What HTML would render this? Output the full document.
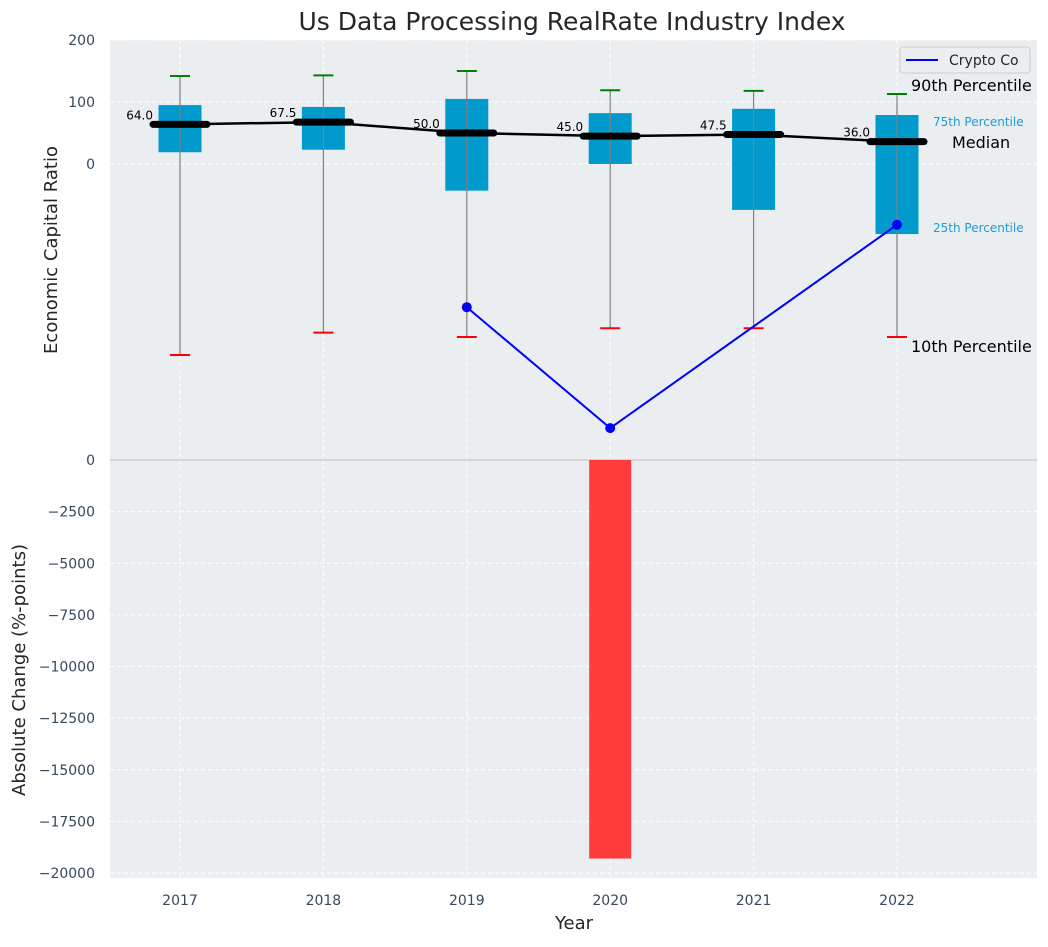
<!DOCTYPE html>
<html><head><meta charset="utf-8"><style>
body{margin:0;background:#fff;font-family:"Liberation Sans","DejaVu Sans",sans-serif}
svg text{font-family:"DejaVu Sans","Liberation Sans",sans-serif}
</style></head><body>
<svg id="c" width="1048" height="942" xmlns="http://www.w3.org/2000/svg">
<text x="572" y="30" font-size="25" text-anchor="middle" fill="#262626">Us Data Processing RealRate Industry Index</text>
<rect x="110" y="40" width="927" height="419" fill="#eaeef0"/>
<rect x="110" y="459" width="927" height="419" fill="#eaeef0"/>
<g id="g"></g>
<text x="57" y="250" font-size="18" fill="#262626" text-anchor="middle" transform="rotate(-90 57 250)">Economic Capital Ratio</text>
<text x="25" y="670" font-size="18" fill="#262626" text-anchor="middle" transform="rotate(-90 25 670)">Absolute Change (%-points)</text>
<text x="574" y="929" font-size="18" fill="#262626" text-anchor="middle">Year</text>
<g>
<rect x="900" y="47" width="130" height="26" rx="3" fill="#eaeef0" stroke="#ccc"/>
<line x1="906" y1="60" x2="938" y2="60" stroke="blue" stroke-width="2"/>
<text x="949" y="65" font-size="14" fill="#262626">Crypto Co</text>
</g>
<text x="911" y="91" font-size="16" fill="#000">90th Percentile</text>
<text x="933" y="126" font-size="12" fill="#1a9fd0">75th Percentile</text>
<text x="952" y="148" font-size="16" fill="#000">Median</text>
<text x="933" y="232" font-size="12" fill="#1a9fd0">25th Percentile</text>
<text x="911" y="352" font-size="16" fill="#000">10th Percentile</text>
</svg>
<script>
const years=["2017","2018","2019","2020","2021","2022"];
const p10=[-308,-272,-279,-265,-265,-279];
const p25=[19,23,-43,0,-74,-113];
const median=[64,67.5,50,45,47.5,36];
const p75=[95,92,105,82,89,79];
const p90=[142,143,150,119,118,113];
const cryptoYears=["2019","2020","2022"];
const cryptoVals=[-231,-426,-98];
const changes=[0,0,0,-19300,0,0];
const topTicks=[200,100,0];
const botTicks=[0,-2500,-5000,-7500,-10000,-12500,-15000,-17500,-20000];
const NS="http://www.w3.org/2000/svg",G=document.getElementById('g');
const X=i=>180+i*143.4;
const Y1=v=>164-v*0.62;
const Y2=v=>460-v*(413/-20000)*-1;
function el(t,a,txt){const e=document.createElementNS(NS,t);for(const k in a)e.setAttribute(k,a[k]);if(txt!=null)e.textContent=txt;G.appendChild(e);return e;}
years.forEach((y,i)=>{
 let e=el('line',{x1:X(i),x2:X(i),y1:40,y2:878,stroke:'#fff','stroke-dasharray':'4,3','stroke-width':1});
 
 let t=el('text',{x:X(i),y:905,'font-size':14,fill:'#34495e','text-anchor':'middle'},y);
 
});
topTicks.forEach(v=>{
 let e=el('line',{x1:110,x2:1037,y1:Y1(v),y2:Y1(v),stroke:'#fff','stroke-dasharray':'4,3'});
 
 let t=el('text',{x:95,y:Y1(v)+5,'font-size':14,fill:'#34495e','text-anchor':'end'},v);
 
});
botTicks.forEach(v=>{
 let e=el('line',{x1:110,x2:1037,y1:Y2(v),y2:Y2(v),stroke:v==0?'#bbb':'#fff','stroke-dasharray':v==0?'':'4,3'});
 
 let t=el('text',{x:95,y:Y2(v)+5,'font-size':14,fill:'#34495e','text-anchor':'end'},v.toString().replace('-','\u2212'));
 
});
changes.forEach((v,i)=>{
 if(v===0)return;
 let r=el('rect',{x:X(i)-21,y:Y2(0),width:42,height:Y2(v)-Y2(0),fill:'#ff3b3b'});
 
});
years.forEach((y,i)=>{
 let b=el('rect',{x:X(i)-21.5,y:Y1(p75[i]),width:43,height:Y1(p25[i])-Y1(p75[i]),fill:'#009acd'});
 
 let w=el('line',{x1:X(i),x2:X(i),y1:Y1(p90[i]),y2:Y1(p10[i]),stroke:'#808080','stroke-width':1.2});
 
 let c1=el('line',{x1:X(i)-10,x2:X(i)+10,y1:Y1(p90[i]),y2:Y1(p90[i]),stroke:'green','stroke-width':2});
 
 let c2=el('line',{x1:X(i)-10,x2:X(i)+10,y1:Y1(p10[i]),y2:Y1(p10[i]),stroke:'red','stroke-width':2});
 
});
let pl=el('polyline',{points:median.map((v,i)=>X(i)+','+Y1(v)).join(' '),fill:'none',stroke:'#000','stroke-width':2.5});

median.forEach((v,i)=>{
 let m=el('line',{x1:X(i)-27,x2:X(i)+27,y1:Y1(v),y2:Y1(v),stroke:'#000','stroke-width':7,'stroke-linecap':'round'});
 
 let t=el('text',{x:X(i)-27,y:Y1(v)-5,'font-size':12,fill:'#000','text-anchor':'end'},v.toFixed(1));
 
});
const ci=cryptoYears.map(y=>years.indexOf(y));
let cl=el('polyline',{points:ci.map((k,j)=>X(k)+','+Y1(cryptoVals[j])).join(' '),fill:'none',stroke:'blue','stroke-width':2});

ci.forEach((k,j)=>{
 let d=el('circle',{cx:X(k),cy:Y1(cryptoVals[j]),r:5,fill:'blue'});
 
});
</script>
</body></html>
